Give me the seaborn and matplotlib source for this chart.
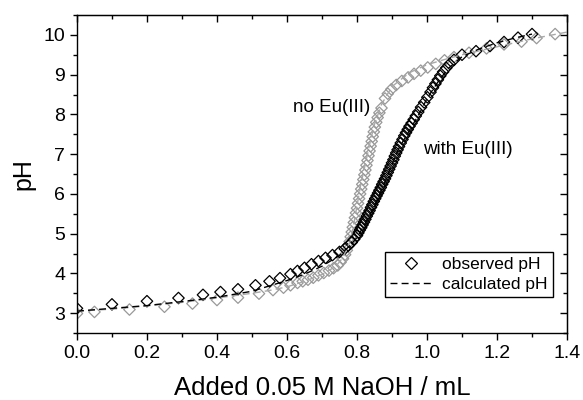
import matplotlib
matplotlib.use("Agg")
import matplotlib.pyplot as plt
from matplotlib.ticker import MultipleLocator, FormatStrFormatter
from matplotlib.lines import Line2D
import pandas as pd
import seaborn as sns

# Observed titration points, with Eu(III)
with_eu_vol = [0.000, 0.100, 0.200, 0.290, 0.360, 0.410, 0.460, 0.510, 0.550, 0.580,
               0.610, 0.630, 0.650, 0.670, 0.690, 0.710, 0.730, 0.750, 0.765, 0.775,
               0.785, 0.792, 0.800, 0.804, 0.808, 0.812, 0.816, 0.820, 0.824, 0.828,
               0.832, 0.836, 0.840, 0.844, 0.848, 0.852, 0.856, 0.860, 0.864, 0.868,
               0.872, 0.876, 0.880, 0.884, 0.888, 0.892, 0.896, 0.900, 0.904, 0.908,
               0.912, 0.916, 0.920, 0.925, 0.930, 0.935, 0.940, 0.945, 0.950, 0.956,
               0.962, 0.968, 0.975, 0.983, 0.992, 1.001, 1.010, 1.017, 1.024, 1.031,
               1.038, 1.046, 1.055, 1.065, 1.077, 1.100, 1.140, 1.180, 1.220, 1.260,
               1.300]
with_eu_ph = [3.12, 3.22, 3.30, 3.38, 3.46, 3.53, 3.60, 3.70, 3.80, 3.88,
              3.98, 4.06, 4.14, 4.23, 4.31, 4.39, 4.46, 4.54, 4.62, 4.70,
              4.78, 4.86, 4.95, 5.02, 5.09, 5.15, 5.22, 5.29, 5.36, 5.44,
              5.51, 5.58, 5.66, 5.73, 5.81, 5.88, 5.95, 6.02, 6.09, 6.16,
              6.24, 6.31, 6.38, 6.46, 6.54, 6.62, 6.70, 6.78, 6.86, 6.95,
              7.03, 7.11, 7.19, 7.28, 7.37, 7.46, 7.54, 7.62, 7.70, 7.78,
              7.87, 7.96, 8.06, 8.18, 8.30, 8.43, 8.56, 8.67, 8.77, 8.87,
              8.97, 9.07, 9.17, 9.27, 9.37, 9.50, 9.59, 9.72, 9.82, 9.93,
              10.02]

# Observed titration points, no Eu(III)
no_eu_vol = [0.000, 0.050, 0.150, 0.250, 0.330, 0.400, 0.460, 0.520, 0.560, 0.590,
             0.610, 0.630, 0.645, 0.660, 0.675, 0.690, 0.705, 0.720, 0.733, 0.745,
             0.753, 0.760, 0.766, 0.771, 0.775, 0.779, 0.782, 0.785, 0.788, 0.791,
             0.794, 0.797, 0.800, 0.803, 0.806, 0.809, 0.812, 0.815, 0.818, 0.821,
             0.824, 0.827, 0.830, 0.833, 0.836, 0.839, 0.842, 0.845, 0.848, 0.851,
             0.855, 0.859, 0.864, 0.870, 0.880, 0.888, 0.898, 0.912, 0.928, 0.946,
             0.963, 0.982, 1.002, 1.025, 1.050, 1.077, 1.120, 1.170, 1.220, 1.270,
             1.313, 1.366]
no_eu_ph = [2.99, 3.03, 3.09, 3.16, 3.24, 3.33, 3.39, 3.49, 3.58, 3.64,
            3.70, 3.76, 3.80, 3.84, 3.89, 3.95, 4.01, 4.07, 4.13, 4.20,
            4.28, 4.37, 4.47, 4.58, 4.69, 4.80, 4.92, 5.04, 5.16, 5.28,
            5.40, 5.52, 5.64, 5.76, 5.88, 6.00, 6.12, 6.24, 6.36, 6.48,
            6.60, 6.72, 6.84, 6.96, 7.08, 7.20, 7.32, 7.44, 7.56, 7.68,
            7.80, 7.92, 8.04, 8.16, 8.40, 8.52, 8.63, 8.74, 8.84, 8.93,
            9.02, 9.10, 9.18, 9.27, 9.36, 9.44, 9.55, 9.66, 9.76, 9.83,
            9.92, 10.02]

# Calculated pH curves
calc_with_vol = [0.00, 0.10, 0.20, 0.30, 0.40, 0.50, 0.60, 0.65, 0.70, 0.75,
                 0.78, 0.80, 0.82, 0.85, 0.88, 0.90, 0.92, 0.95, 0.98, 1.00,
                 1.03, 1.06, 1.10, 1.15, 1.20, 1.25, 1.30]
calc_with_ph = [3.05, 3.12, 3.19, 3.29, 3.40, 3.55, 3.82, 3.98, 4.18, 4.45,
                4.70, 4.90, 5.20, 5.70, 6.30, 6.75, 7.15, 7.60, 8.05, 8.40,
                8.80, 9.15, 9.45, 9.65, 9.80, 9.92, 10.02]

calc_no_vol = [0.00, 0.10, 0.20, 0.30, 0.40, 0.50, 0.55, 0.60, 0.65, 0.70,
               0.74, 0.76, 0.78, 0.79, 0.80, 0.81, 0.82, 0.83, 0.84, 0.85,
               0.87, 0.90, 0.95, 1.00, 1.05, 1.10, 1.20, 1.30, 1.40]
calc_no_ph = [3.05, 3.10, 3.18, 3.27, 3.38, 3.50, 3.57, 3.66, 3.80, 3.97,
              4.18, 4.40, 4.80, 5.20, 5.70, 6.20, 6.60, 7.00, 7.40, 7.75,
              8.25, 8.70, 9.05, 9.25, 9.38, 9.50, 9.70, 9.90, 10.07]

obs_with = pd.DataFrame({"vol": with_eu_vol, "pH": with_eu_ph})
obs_no = pd.DataFrame({"vol": no_eu_vol, "pH": no_eu_ph})
calc_with = pd.DataFrame({"vol": calc_with_vol, "pH": calc_with_ph})
calc_no = pd.DataFrame({"vol": calc_no_vol, "pH": calc_no_ph})

sns.set_style("ticks")
plt.rcParams["font.family"] = ["Liberation Sans", "DejaVu Sans"]
plt.rcParams.update({
    "text.color": "black",
    "axes.labelcolor": "black",
    "xtick.color": "black",
    "ytick.color": "black",
    "axes.edgecolor": "black",
})

GREY = "#999999"
DASH = (0, (5, 3))

fig = plt.figure(figsize=(5.83, 4.0), dpi=100)
ax = fig.add_axes([0.132, 0.1675, 0.8406, 0.795])

# calculated curves
sns.lineplot(data=calc_no, x="vol", y="pH", ax=ax, color="#a8a8a8",
             linestyle=DASH, linewidth=1.0, sort=False, label="_nolegend_")
sns.lineplot(data=calc_with, x="vol", y="pH", ax=ax, color="black",
             linestyle=DASH, linewidth=1.0, sort=False, label="_nolegend_")

# observed points
sns.scatterplot(data=obs_no, x="vol", y="pH", ax=ax, marker="D", s=34,
                facecolor="none", edgecolor=GREY, linewidth=0.9, label="_nolegend_")
sns.scatterplot(data=obs_with, x="vol", y="pH", ax=ax, marker="D", s=34,
                facecolor="none", edgecolor="black", linewidth=0.9, label="_nolegend_")

ax.set_xlim(0.0, 1.4)
ax.set_ylim(2.5, 10.5)
ax.xaxis.set_major_locator(MultipleLocator(0.2))
ax.xaxis.set_minor_locator(MultipleLocator(0.1))
ax.yaxis.set_major_locator(MultipleLocator(1))
ax.yaxis.set_minor_locator(MultipleLocator(0.5))
ax.xaxis.set_major_formatter(FormatStrFormatter("%.1f"))

ax.tick_params(which="major", direction="out", length=5, width=1.0, labelsize=14)
ax.tick_params(which="minor", direction="out", length=3, width=1.0)

for sp in ax.spines.values():
    sp.set_visible(True)
    sp.set_linewidth(1.0)
    sp.set_color("black")

# inward ticks on top and right
top = ax.secondary_xaxis("top")
top.xaxis.set_major_locator(MultipleLocator(0.2))
top.xaxis.set_minor_locator(MultipleLocator(0.1))
top.tick_params(which="major", direction="in", length=5, width=1.0, labeltop=False)
top.tick_params(which="minor", direction="in", length=3, width=1.0)
right = ax.secondary_yaxis("right")
right.yaxis.set_major_locator(MultipleLocator(1))
right.yaxis.set_minor_locator(MultipleLocator(0.5))
right.tick_params(which="major", direction="in", length=5, width=1.0, labelright=False)
right.tick_params(which="minor", direction="in", length=3, width=1.0)

ax.set_xlabel("Added 0.05 M NaOH / mL", fontsize=18.5, labelpad=10)
ax.set_ylabel("pH", fontsize=18, labelpad=6)

ax.text(0.618, 8.06, "no Eu(III)", fontsize=13.5, ha="left", va="baseline")
ax.text(0.99, 7.0, "with Eu(III)", fontsize=13.5, ha="left", va="baseline")

handles = [
    Line2D([], [], linestyle="none", marker="D", markersize=5.8,
           markerfacecolor="none", markeredgecolor="black", markeredgewidth=0.9),
    Line2D([], [], color="black", linestyle=DASH, linewidth=1.0),
]
leg = ax.legend(handles, ["observed pH", "calculated pH"], loc="lower right",
                bbox_to_anchor=(0.971, 0.113), borderaxespad=0, fontsize=12.5,
                frameon=True, fancybox=False, edgecolor="black", framealpha=1,
                handlelength=2.4, handletextpad=0.6, borderpad=0.3, labelspacing=0.25)
leg.get_frame().set_linewidth(1.0)

fig.savefig("out.png", dpi=100)
